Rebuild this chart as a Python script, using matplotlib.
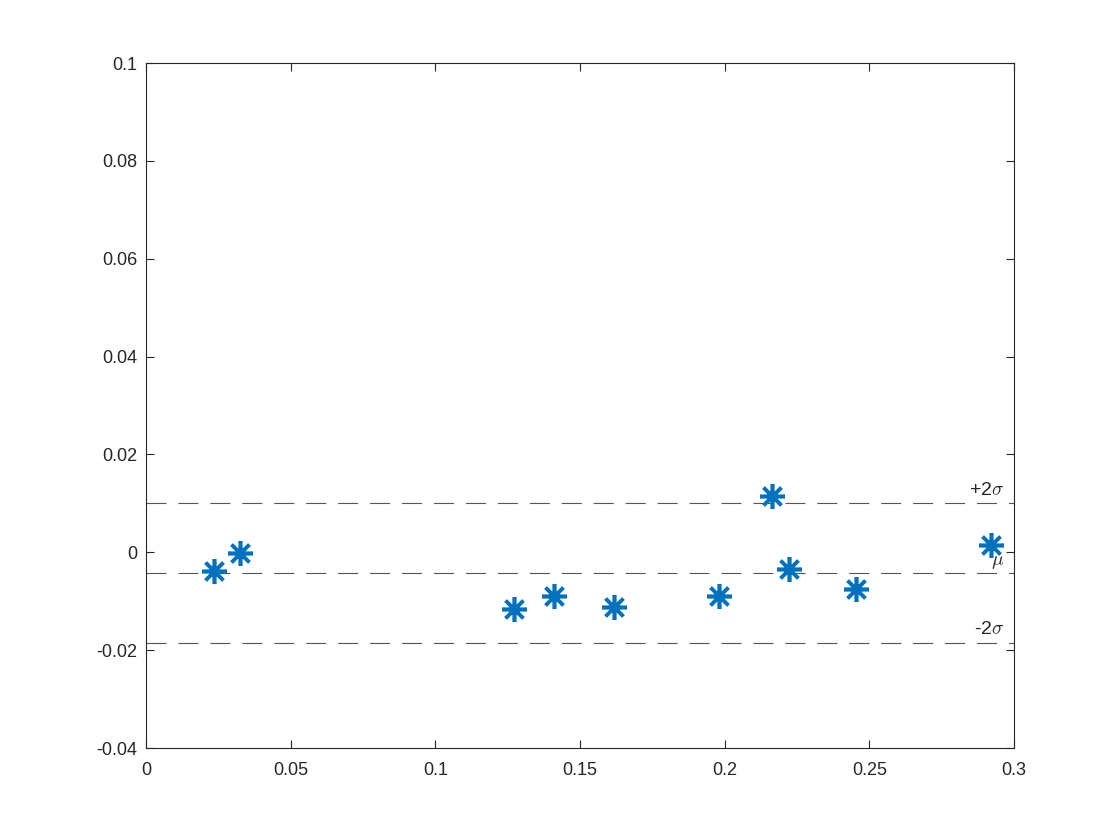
import numpy as np
import matplotlib
matplotlib.use('Agg')
import matplotlib.pyplot as plt
from matplotlib.ticker import FuncFormatter

# data
x_vals = [0.0235, 0.0325, 0.1272, 0.1410, 0.1618, 0.1980, 0.2164, 0.2222, 0.2454, 0.2920]
y_vals = [-0.0038, -0.0001, -0.0116, -0.0089, -0.0112, -0.0089, 0.0115, -0.0034, -0.0075, 0.0015]

x_ticks = [0, 0.05, 0.1, 0.15, 0.2, 0.25, 0.3]
y_ticks = [-0.04, -0.02, 0, 0.02, 0.04, 0.06, 0.08, 0.1]

# mean and +/- 2 sigma lines
mu = np.mean(y_vals)
sd = np.std(y_vals, ddof=1)
lines = [mu + 2*sd, mu, mu - 2*sd]
labels = [r'+2$\sigma$', r'$\mu$', r'-2$\sigma$']

plt.rcParams['font.family'] = ['Liberation Sans', 'DejaVu Sans']
plt.rcParams['mathtext.fontset'] = 'cm'
ink = '#262626'

fig = plt.figure(figsize=(11.2, 8.4), dpi=100)
ax = fig.add_axes([0.1304, 0.1095, 0.775, 0.8155])

lw = 0.8
for yl in lines:
    ax.plot([0, 0.3], [yl, yl], color='#555555', linewidth=lw,
            dashes=(14.4/lw, 8.6/lw))

ax.plot(x_vals, y_vals, linestyle='none', marker=(8, 2, 0), markersize=18,
        markeredgewidth=2.6, color='#0072BD')

# line labels, right aligned, sitting above each line
for yl, lab in zip(lines, labels):
    ax.annotate(lab, xy=(0.2965, yl), xytext=(0, 6), textcoords='offset points',
                ha='right', va='baseline', fontsize=14, color=ink)

ax.set_xlim(0, 0.3)
ax.set_ylim(-0.04, 0.1)
ax.set_xticks(x_ticks)
ax.set_yticks(y_ticks)
fmt = FuncFormatter(lambda v, p: ('%g' % round(v, 4)))
ax.xaxis.set_major_formatter(fmt)
ax.yaxis.set_major_formatter(fmt)
ax.tick_params(direction='in', top=True, right=True, length=6, width=0.8,
               labelsize=13, colors=ink)
ax.tick_params(axis='x', pad=10)
ax.tick_params(axis='y', pad=6)
for s in ax.spines.values():
    s.set_color(ink)
    s.set_linewidth(0.8)

fig.savefig('out.png', dpi=100)
